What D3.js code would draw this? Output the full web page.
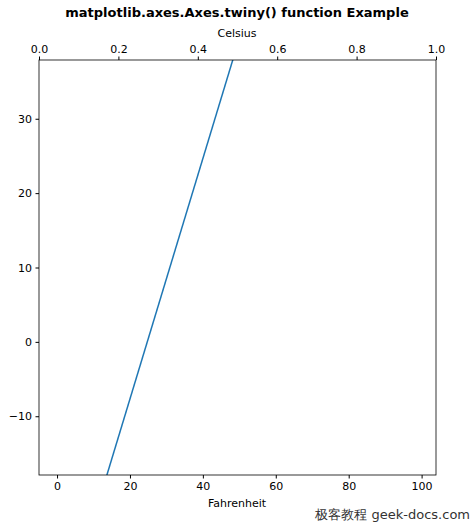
<!DOCTYPE html>
<html><head><meta charset="utf-8">
<script src="https://cdn.jsdelivr.net/npm/d3@7"></script>
<style>body{margin:0;background:#fff}text{font-family:"DejaVu Sans",sans-serif}</style>
</head><body><svg id="c" width="474" height="522"></svg>
<script>
const xs = [0, 99];
const ys = [-40, 120];
const bottomTicks = [0, 20, 40, 60, 80, 100];
const topTicks = [0, 0.2, 0.4, 0.6, 0.8, 1.0];
const leftTicks = [-10, 0, 10, 20, 30];

const svg = d3.select("#c");
const L = 39, R = 436, T = 60, B = 475;
const x = d3.scaleLinear().domain([-4.95, 103.95]).range([L, R]);
const xt = d3.scaleLinear().domain([0, 1]).range([L, R]);
const y = d3.scaleLinear().domain([-17.9, 37.9]).range([B, T]);

svg.append("clipPath").attr("id", "cp").append("rect")
  .attr("x", L).attr("y", T).attr("width", R - L).attr("height", B - T);
svg.append("path").datum(xs.map((d, i) => [d, ys[i]]))
  .attr("clip-path", "url(#cp)")
  .attr("d", d3.line().x(d => x(d[0])).y(d => y(d[1])))
  .attr("fill", "none").attr("stroke", "#1f77b4").attr("stroke-width", 1.5);

function style(g) {
  g.selectAll("text").attr("font-size", 11).attr("fill", "#000").attr("font-family", "DejaVu Sans");
  g.selectAll("line").attr("stroke", "#000");
  g.select(".domain").remove();
}
svg.append("g").attr("transform", `translate(0,${B})`)
  .call(d3.axisBottom(x).tickValues(bottomTicks).tickSize(3.5).tickPadding(3.5)).call(style);
svg.append("g").attr("transform", `translate(0,${T})`)
  .call(d3.axisTop(xt).tickValues(topTicks).tickFormat(d3.format(".1f")).tickSize(3.5).tickPadding(3.5)).call(style);
svg.append("g").attr("transform", `translate(${L},0)`)
  .call(d3.axisLeft(y).tickValues(leftTicks).tickFormat(d => d < 0 ? "\u2212" + Math.abs(d) : d).tickSize(3.5).tickPadding(3.5)).call(style);

svg.append("rect").attr("x", L).attr("y", T).attr("width", R - L).attr("height", B - T)
  .attr("fill", "none").attr("stroke", "#000").attr("stroke-width", 0.8);

svg.append("text").attr("x", 237).attr("y", 17).attr("text-anchor", "middle")
  .attr("font-size", 13).attr("font-weight", "bold").text("matplotlib.axes.Axes.twiny() function Example");
svg.append("text").attr("x", 237).attr("y", 37).attr("text-anchor", "middle")
  .attr("font-size", 11).text("Celsius");
svg.append("text").attr("x", 237).attr("y", 507).attr("text-anchor", "middle")
  .attr("font-size", 11).text("Fahrenheit");
svg.append("text").attr("x", 470).attr("y", 519).attr("text-anchor", "end")
  .attr("font-size", 13).attr("fill", "#333").attr("font-family", "Noto Sans CJK SC")
  .text("极客教程 geek-docs.com");
</script></body></html>
